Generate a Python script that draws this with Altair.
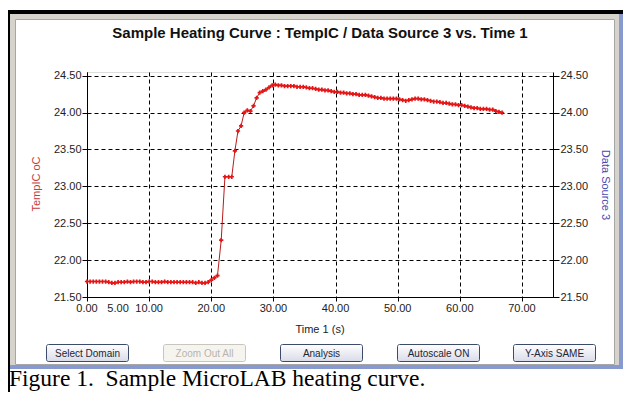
import altair as alt
import pandas as pd

# ---------------- data ----------------
time_s = [
    0.0, 0.5, 1.0, 1.5, 2.0, 2.5, 3.0, 3.5, 4.0, 4.5,
    5.0, 5.5, 6.0, 6.5, 7.0, 7.5, 8.0, 8.5, 9.0, 9.5,
    10.0, 10.5, 11.0, 11.5, 12.0, 12.5, 13.0, 13.5, 14.0, 14.5,
    15.0, 15.5, 16.0, 16.5, 17.0, 17.5, 18.0, 18.5, 19.0, 19.5,
    20.0, 20.5, 21.0, 21.6, 22.2, 22.8, 23.3, 23.8, 24.3, 24.8,
    25.3, 25.8, 26.3, 26.8, 27.3, 27.8, 28.3, 28.8, 29.3, 29.8,
    30.3, 30.8, 31.3, 31.8, 32.3, 32.8, 33.3, 33.8, 34.3, 34.8,
    35.3, 35.8, 36.3, 36.8, 37.3, 37.8, 38.3, 38.8, 39.3, 39.8,
    40.3, 40.8, 41.3, 41.8, 42.3, 42.8, 43.3, 43.8, 44.3, 44.8,
    45.3, 45.8, 46.3, 46.8, 47.3, 47.8, 48.3, 48.8, 49.3, 49.8,
    50.3, 50.8, 51.3, 51.8, 52.3, 52.8, 53.3, 53.8, 54.3, 54.8,
    55.3, 55.8, 56.3, 56.8, 57.3, 57.8, 58.3, 58.8, 59.3, 59.8,
    60.3, 60.8, 61.3, 61.8, 62.3, 62.8, 63.3, 63.8, 64.3, 64.8,
    65.3, 65.8, 66.3, 66.8,
]
temp_c = [
    21.71, 21.71, 21.71, 21.71, 21.71, 21.71, 21.71, 21.70, 21.69, 21.69,
    21.70, 21.70, 21.70, 21.71, 21.70, 21.71, 21.71, 21.71, 21.70, 21.70,
    21.71, 21.71, 21.70, 21.70, 21.70, 21.71, 21.70, 21.70, 21.70, 21.70,
    21.70, 21.70, 21.70, 21.70, 21.70, 21.69, 21.70, 21.69, 21.69, 21.70,
    21.73, 21.76, 21.79, 22.27, 23.13, 23.13, 23.13, 23.48, 23.75, 23.82,
    24.00, 24.03, 24.02, 24.09, 24.20, 24.27, 24.29, 24.31, 24.34, 24.37,
    24.38, 24.37, 24.37, 24.36, 24.36, 24.36, 24.36, 24.35, 24.35, 24.35,
    24.34, 24.33, 24.33, 24.32, 24.31, 24.31, 24.30, 24.30, 24.29, 24.28,
    24.28, 24.27, 24.27, 24.26, 24.26, 24.25, 24.25, 24.24, 24.24, 24.24,
    24.23, 24.22, 24.21, 24.20, 24.20, 24.19, 24.19, 24.19, 24.19, 24.19,
    24.18, 24.17, 24.16, 24.17, 24.18, 24.19, 24.19, 24.18, 24.18, 24.17,
    24.16, 24.15, 24.15, 24.14, 24.13, 24.13, 24.12, 24.11, 24.11, 24.10,
    24.10, 24.09, 24.08, 24.07, 24.06, 24.06, 24.05, 24.05, 24.05, 24.04,
    24.04, 24.02, 24.01, 24.00,
]
x_ticks = [0, 5, 10, 15, 20, 25, 30, 35, 40, 45, 50, 55, 60, 65, 70, 75]
x_labelled = [0, 5, 10, 20, 30, 40, 50, 60, 70]
y_ticks = [21.5, 22.0, 22.5, 23.0, 23.5, 24.0, 24.5]

title_text = "Sample Heating Curve : TempIC / Data Source 3 vs. Time 1"
y_title = "TempIC oC"
y2_title = "Data Source 3"
x_title = "Time 1 (s)"
button_labels = ["Select Domain", "Zoom Out All", "Analysis", "Autoscale ON", "Y-Axis SAME"]
caption_text = "Figure 1.\u00a0 Sample MicroLAB heating curve."

# ---------------- layout ----------------
W, H = 466, 225
PAD_L, PAD_T = 79, 64
TOTAL_W, TOTAL_H = 615, 384
OX, OY = 8 + PAD_L, 8 + PAD_T  # page position of plot origin


def px(x):
    return x - OX


def py(y):
    return y - OY


one = pd.DataFrame({"k": [0]})


def rect(x1, y1, x2, y2, **kw):
    return alt.Chart(one).mark_rect(**kw).encode(
        x=alt.value(px(x1)), x2=alt.value(px(x2)),
        y=alt.value(py(y1)), y2=alt.value(py(y2)),
    )


def text(s, x, y, **kw):
    return alt.Chart(one).mark_text(**kw).encode(
        x=alt.value(px(x)), y=alt.value(py(y)), text=alt.value(s)
    )


df = pd.DataFrame({"time": time_s, "temp": temp_c})
xlab_df = pd.DataFrame({"v": x_labelled, "lab": [f"{v:.2f}" for v in x_labelled]})

x_scale = alt.Scale(domain=[0, 75], nice=False, zero=False)
y_scale = alt.Scale(domain=[21.5, 24.55], nice=False, zero=False)

FONT = "Liberation Sans"

x_axis = alt.Axis(
    values=x_ticks, title=None, grid=True, gridDash=[4, 3], gridColor="black",
    gridOpacity=1, gridWidth=1, tickSize=4, tickColor="black", domainColor="black",
    labels=False,
)
y_axis_left = alt.Axis(
    values=y_ticks, format=".2f", title=None, grid=True, gridDash=[4, 3],
    gridColor="black", gridOpacity=1, gridWidth=1, tickSize=5, tickColor="black",
    domainColor="black", labelFont=FONT, labelFontSize=11, labelColor="#222222",
    labelPadding=1, labelOverlap=False, labelFlush=False, orient="left",
)
y_axis_right = alt.Axis(
    values=y_ticks, format=".2f", title=None, grid=False, tickSize=6,
    tickColor="black", domainColor="black", labelFont=FONT, labelFontSize=11,
    labelColor="#222222", labelPadding=1, labelOverlap=False, labelFlush=False,
    orient="right",
)

line = alt.Chart(df).mark_line(color="#b81c1c", strokeWidth=1).encode(
    x=alt.X("time:Q", scale=x_scale, axis=x_axis),
    y=alt.Y("temp:Q", scale=y_scale, axis=y_axis_left),
)
pts = alt.Chart(df).mark_point(shape="cross", filled=True, size=18, color="#e51515", opacity=1).encode(
    x=alt.X("time:Q", scale=x_scale),
    y=alt.Y("temp:Q", scale=y_scale, axis=y_axis_right),
)
xlabels = alt.Chart(xlab_df).mark_text(
    font=FONT, fontSize=11, color="#222222", baseline="top", align="center"
).encode(
    x=alt.X("v:Q", scale=x_scale),
    y=alt.value(H + 6),
    text="lab:N",
)

# window frame decorations (page pixel positions)
deco = [
    rect(8, 10, 623, 14, color="black"),
    rect(8, 10, 10, 392, color="black"),
    rect(10, 14, 15, 369, color="#d6d3cc"),
    rect(10, 14, 623, 19, color="#d6d3cc"),
    rect(615, 14, 619, 369, color="#d6d3cc"),
    rect(619, 14, 623, 369, color="#8799cf"),
    rect(10, 365, 623, 369, color="#8799cf"),
    rect(15.5, 19.5, 614.5, 364.5, fillOpacity=0, stroke="#a6a6a6", strokeWidth=1),
]

grad = alt.Gradient(
    gradient="linear",
    stops=[alt.GradientStop(color="#ffffff", offset=0), alt.GradientStop(color="#d9dbe8", offset=1)],
    x1=0, x2=0, y1=0, y2=1,
)
button_x = [46, 163, 280, 397, 513]
buttons = []
for i, lab in enumerate(button_labels):
    bx = button_x[i]
    disabled = lab == "Zoom Out All"
    buttons.append(
        rect(bx + 0.5, 344.5, bx + 82.5, 361.5,
             color=grad if not disabled else "#f5f4ef",
             stroke="#c9c5bd" if disabled else "#3c4b69", strokeWidth=1, cornerRadius=2)
    )
    buttons.append(
        text(lab, bx + 41.5, 353.5, font=FONT, fontSize=10, align="center", baseline="middle",
             color="#b9b5ad" if disabled else "#1d2536")
    )

texts = [
    text(title_text, 320, 38, font=FONT, fontSize=15, fontWeight="bold", align="center",
         baseline="alphabetic", color="#111111"),
    text(y_title, 37, 184, font=FONT, fontSize=11, angle=270, align="center",
         baseline="middle", color="#c43c3c"),
    text(y2_title, 605, 185, font=FONT, fontSize=11, angle=90, align="center",
         baseline="middle", color="#4a4aae"),
    text(x_title, 320, 330, font=FONT, fontSize=11, align="center", baseline="middle",
         color="#222222"),
    text(caption_text, 9, 386, font="Liberation Serif", fontSize=23.5, align="left",
         baseline="alphabetic", color="#000000"),
]

chart = alt.layer(*deco, *buttons, *texts, line, pts, xlabels).resolve_scale(
    y="independent"
).properties(
    width=W, height=H, autosize="none",
    padding={"left": PAD_L, "top": PAD_T, "right": TOTAL_W - PAD_L - W, "bottom": TOTAL_H - PAD_T - H},
).configure_view(stroke="black", strokeWidth=1).configure(background="white")

chart.save("out.html", embed_options={"renderer": "svg", "actions": False})
